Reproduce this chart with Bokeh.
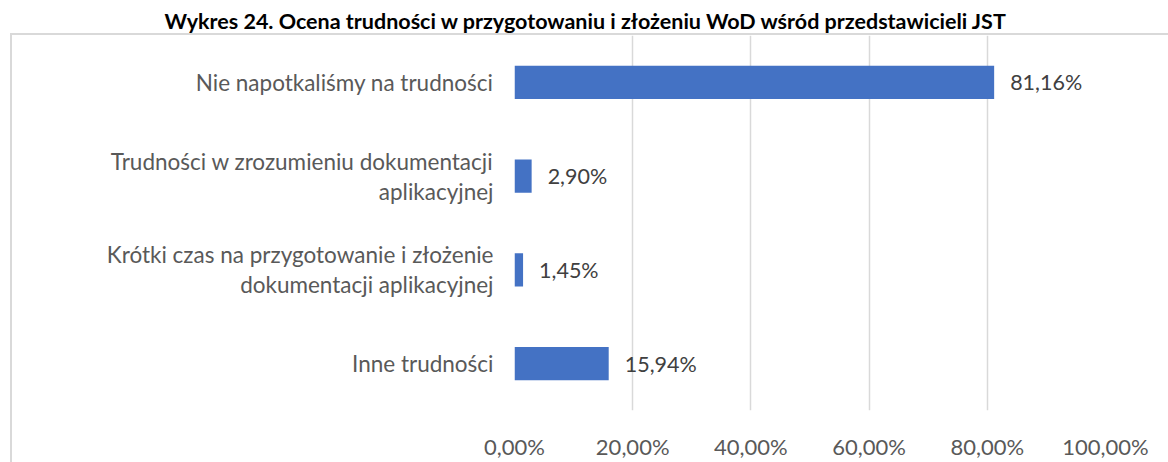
from bokeh.plotting import figure
from bokeh.models import (FactorRange, Range1d, FixedTicker, ColumnDataSource,
                          LabelSet, InlineStyleSheet)
from bokeh.core.properties import value
from bokeh.embed import file_html
from bokeh.resources import INLINE

title_text = "Wykres 24. Ocena trudności w przygotowaniu i złożeniu WoD wśród przedstawicieli JST"
categories = [
    "Nie napotkaliśmy na trudności",
    "Trudności w zrozumieniu dokumentacji\naplikacyjnej",
    "Krótki czas na przygotowanie i złożenie\ndokumentacji aplikacyjnej",
    "Inne trudności",
]
values = [0.8116, 0.0290, 0.0145, 0.1594]
value_labels = ["81,16%", "2,90%", "1,45%", "15,94%"]
tick_values = [0.0, 0.2, 0.4, 0.6, 0.8, 1.0]
tick_labels = ["0,00%", "20,00%", "40,00%", "60,00%", "80,00%", "100,00%"]

FONT = "Lato"

src = ColumnDataSource(dict(cat=categories, val=values, lab=value_labels))

p = figure(width=1168, height=462,
           y_range=FactorRange(factors=categories[::-1]),
           x_range=Range1d(0, 1.0),
           output_backend="svg", toolbar_location=None,
           min_border_left=514, min_border_right=63,
           min_border_top=35, min_border_bottom=44)
p.outline_line_color = None
p.background_fill_color = "white"
p.border_fill_color = "white"

# title
p.title.text = title_text
p.title.align = "left"
p.title.offset = -350
p.title.vertical_align = "top"
p.title.standoff = 0
p.title.text_font = FONT
p.title.text_font_size = "21.5px"
p.title.text_font_style = "bold"
p.title.text_color = "black"

p.hbar(y="cat", left=0, right="val", height=0.355, source=src,
       fill_color="#4472C4", line_color=None)

p.xaxis.ticker = FixedTicker(ticks=tick_values)
p.xaxis.major_label_overrides = dict(zip(tick_values, tick_labels))
for ax in (p.xaxis, p.yaxis):
    ax.axis_line_color = None
    ax.major_tick_line_color = None
    ax.minor_tick_line_color = None
    ax.major_label_text_font = FONT
    ax.major_label_text_color = "#595959"
p.xaxis.major_label_text_font_size = "22px"
p.yaxis.major_label_text_font_size = "22.5px"
p.xaxis.major_label_standoff = 16
p.yaxis.major_label_standoff = 15
p.yaxis.major_label_text_line_height = 1.12

p.xgrid.grid_line_color = "#d9d9d9"
p.xgrid.grid_line_width = 1.5
p.ygrid.grid_line_color = None

labels = LabelSet(x="val", y="cat", text="lab", source=src, x_offset=16,
                  text_align="left", text_baseline="middle",
                  text_font=value(FONT), text_font_size="21.5px",
                  text_color="#404040")
p.add_layout(labels)

# light grey border of the chart object (left and top edges)
p.stylesheets = [InlineStyleSheet(css="""
:host { position: relative; }
:host::after {
  content: "";
  position: absolute;
  left: 10px; top: 33px; right: 0; bottom: 0;
  border-left: 2px solid #d9d9d9;
  border-top: 2px solid #d9d9d9;
  pointer-events: none;
}
""")]

open("out.html", "w").write(file_html(p, INLINE))
